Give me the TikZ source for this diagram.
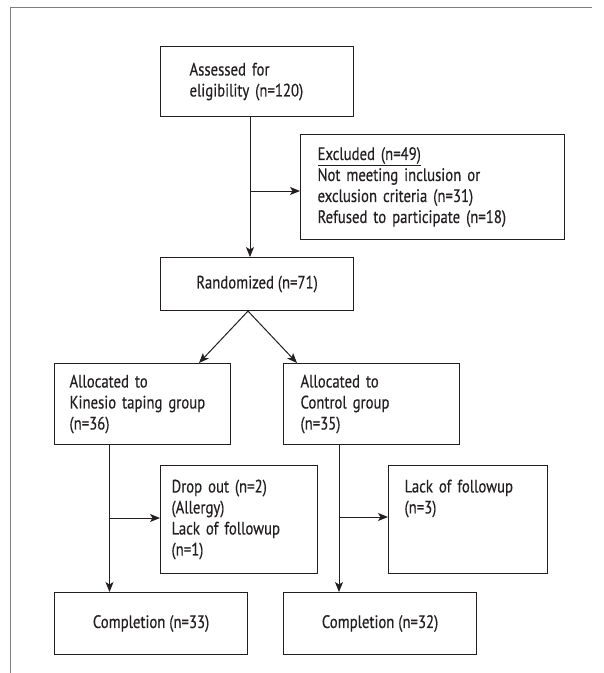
\documentclass[tikz,border=0pt]{standalone}
\usepackage{fontspec}
\setmainfont[FakeStretch=0.82,FakeBold=0.4]{PT Sans}
\usetikzlibrary{arrows.meta}
\definecolor{ink}{HTML}{231F20}
\definecolor{framegray}{HTML}{7F7F7F}
\begin{document}
\begin{tikzpicture}[x=1pt,y=-1pt,
  box/.style={draw=ink, line width=1.1pt, text=ink, font=\fontsize{18}{21}\selectfont,
    anchor=north west, inner ysep=0pt, align=left},
  cbox/.style={draw=ink, line width=1.1pt, text=ink, font=\fontsize{18}{21}\selectfont,
    anchor=north west, inner sep=0pt, align=center},
  arr/.style={draw=ink, line width=1pt, -{Stealth[length=10pt,width=8pt,inset=2.5pt]}}]
\useasboundingbox (0,0) rectangle (604,673);
\draw[framegray, line width=1.3pt] (10.7,673) -- (10.7,7.3) -- (592,7.3);

\node[box, inner xsep=29pt, text width=135pt, minimum height=70pt] (assess) at (160,46)
  {Assessed for\\eligibility (n=120)};
\node[box, inner xsep=17pt, text width=230pt, minimum height=105pt] (excl) at (300,134)
  {\underline{Excluded (n=49)}\\Not meeting inclusion or\\exclusion criteria (n=31)\\Refused to participate (n=18)};
\node[cbox, minimum width=193pt, minimum height=53pt] (rand) at (160,257) {Randomized (n=71)};
\node[box, inner xsep=15pt, text width=146pt, minimum height=81pt] (kin) at (54,363)
  {Allocated to\\Kinesio taping group\\(n=36)};
\node[box, inner xsep=17pt, text width=142pt, minimum height=81pt] (ctrl) at (283,363)
  {Allocated to\\Control group\\(n=35)};
\node[box, inner xsep=11pt, text width=135pt, minimum height=108pt] (drop) at (160,465)
  {Drop out (n=2)\\(Allergy)\\Lack of followup\\(n=1)};
\node[box, inner xsep=16pt, text width=127pt, minimum height=108pt] (lack) at (388,465)
  {Lack of followup\\(n=3)\\\vphantom{(}\\\vphantom{(}};
\node[cbox, minimum width=193pt, minimum height=62pt] (comp1) at (54,592) {Completion (n=33)};
\node[cbox, minimum width=193pt, minimum height=62pt] (comp2) at (283,592) {Completion (n=32)};

\coordinate (ax) at (250,0);
\coordinate (j1) at (250,191);
\coordinate (apex) at (248,0);
\coordinate (kt) at (199,0);
\coordinate (ct) at (297,0);
\coordinate (kx) at (109.5,0);
\coordinate (cx) at (339,0);
\coordinate (j2) at (109.5,518);
\coordinate (j3) at (339,517);

\draw[arr] (assess.south -| ax) -- (rand.north -| ax);
\draw[arr] (j1) -- (excl.west |- j1);
\draw[arr] (rand.south -| apex) -- (kin.north -| kt);
\draw[arr] (rand.south -| apex) -- (ctrl.north -| ct);
\draw[arr] (kin.south -| kx) -- (comp1.north -| kx);
\draw[arr] (j2) -- (drop.west |- j2);
\draw[arr] (ctrl.south -| cx) -- (comp2.north -| cx);
\draw[arr] (j3) -- (lack.west |- j3);
\end{tikzpicture}
\end{document}
